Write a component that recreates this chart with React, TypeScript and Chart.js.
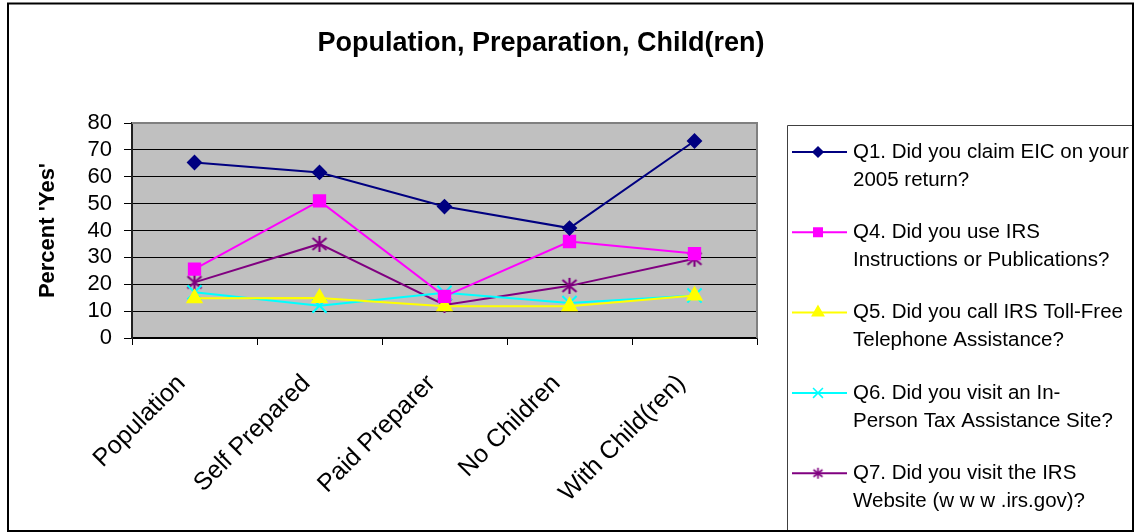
import React, { useEffect, useRef } from 'react';
import { Chart, registerables } from 'chart.js';
import { drawPoint } from 'chart.js/helpers';

Chart.register(...registerables);

// Survey groups along the x axis
const categories = ['Population', 'Self Prepared', 'Paid Preparer', 'No Children', 'With Child(ren)'];

// Percent answering "Yes" for each question
const q1Values = [65.3, 61.6, 48.9, 40.9, 73.3];
const q4Values = [25.6, 51.0, 15.5, 35.9, 31.4];
const q5Values = [14.8, 14.9, 11.8, 11.8, 15.8];
const q6Values = [17.0, 12.0, 16.8, 13.0, 15.8];
const q7Values = [20.7, 35.0, 12.3, 19.4, 29.5];

const yMin = 0;
const yMax = 80;
const yStep = 10;

const seriesNames = [
  ['Q1. Did you claim EIC on your', '2005 return?'],
  ['Q4. Did you use IRS', 'Instructions or Publications?'],
  ['Q5. Did you call IRS Toll-Free', 'Telephone Assistance?'],
  ['Q6. Did you visit an In-', 'Person Tax Assistance Site?'],
  ['Q7. Did you visit the IRS', 'Website (w w w .irs.gov)?'],
];

const chartTitle = 'Population, Preparation, Child(ren)';
const yAxisTitle = "Percent 'Yes'";

const W = 1138;
const H = 532;

// Asterisk marker: a vertical stroke crossed by an X
function makeAsterisk(size: number, color: string, lw: number): HTMLCanvasElement {
  const c = document.createElement('canvas');
  c.width = size;
  c.height = size;
  const g = c.getContext('2d')!;
  g.strokeStyle = color;
  g.lineWidth = lw;
  const m = size / 2;
  const p = 1;
  g.beginPath();
  g.moveTo(m, p);
  g.lineTo(m, size - p);
  g.moveTo(p + 1, p + 2);
  g.lineTo(size - p - 1, size - p - 2);
  g.moveTo(size - p - 1, p + 2);
  g.lineTo(p + 1, size - p - 2);
  g.stroke();
  return c;
}

export default function App() {
  const canvasRef = useRef<HTMLCanvasElement | null>(null);

  useEffect(() => {
    const canvas = canvasRef.current;
    if (!canvas) return;

    const purple = '#800080';
    const starBig = makeAsterisk(18, purple, 2.2);
    const starSmall = makeAsterisk(13, purple, 1.6);

    const seriesStyles = [
      { color: '#000080', style: 'rectRot', radius: 6.5, legendStyle: 'rectRot', legendRadius: 5 },
      { color: '#FF00FF', style: 'rect', radius: 8, legendStyle: 'rect', legendRadius: 6 },
      { color: '#FFFF00', style: 'triangle', radius: 8, legendStyle: 'triangle', legendRadius: 6.5 },
      { color: '#00FFFF', style: 'crossRot', radius: 10, legendStyle: 'crossRot', legendRadius: 7 },
      { color: purple, style: starBig as any, radius: 8, legendStyle: starSmall as any, legendRadius: 6 },
    ];
    const seriesValues = [q1Values, q4Values, q5Values, q6Values, q7Values];

    const datasets = seriesValues.map((vals, i) => ({
      label: seriesNames[i].join(' '),
      data: vals,
      borderColor: seriesStyles[i].color,
      backgroundColor: seriesStyles[i].color,
      borderWidth: 2,
      pointStyle: seriesStyles[i].style,
      pointRadius: seriesStyles[i].radius,
      pointBorderWidth: 2,
      pointBackgroundColor: seriesStyles[i].color,
      pointBorderColor: seriesStyles[i].color,
      tension: 0,
      fill: false,
    }));

    const decor = {
      id: 'decor',
      beforeDraw(chart: any) {
        const { ctx, chartArea } = chart;
        ctx.save();
        ctx.fillStyle = '#ffffff';
        ctx.fillRect(0, 0, W, H);
        ctx.fillStyle = '#C0C0C0';
        ctx.fillRect(chartArea.left, chartArea.top, chartArea.right - chartArea.left, chartArea.bottom - chartArea.top);
        ctx.restore();
      },
      beforeDatasetsDraw(chart: any) {
        const { ctx, chartArea } = chart;
        ctx.save();
        ctx.strokeStyle = '#808080';
        ctx.lineWidth = 2;
        ctx.beginPath();
        ctx.moveTo(chartArea.left, chartArea.top);
        ctx.lineTo(chartArea.right, chartArea.top);
        ctx.lineTo(chartArea.right, chartArea.bottom);
        ctx.stroke();
        ctx.restore();
      },
      afterDraw(chart: any) {
        const { ctx } = chart;
        ctx.save();
        // Title
        ctx.fillStyle = '#000';
        ctx.font = 'bold 27px Arial, "Liberation Sans", sans-serif';
        ctx.textAlign = 'center';
        ctx.textBaseline = 'middle';
        ctx.fillText(chartTitle, 541, 44);

        // Legend box, running into the outer frame on the right and bottom
        const lx = 787.5;
        const ly = 125.5;
        ctx.strokeStyle = '#404040';
        ctx.lineWidth = 1;
        ctx.beginPath();
        ctx.moveTo(lx, H);
        ctx.lineTo(lx, ly);
        ctx.lineTo(1133, ly);
        ctx.stroke();

        ctx.save();
        ctx.beginPath();
        ctx.rect(lx, ly, 1132 - lx, H - ly);
        ctx.clip();
        ctx.font = '20.5px Arial, "Liberation Sans", sans-serif';
        ctx.textAlign = 'left';
        ctx.textBaseline = 'middle';
        seriesNames.forEach((lines, i) => {
          const y = 152 + i * 80.3;
          const st = seriesStyles[i];
          ctx.strokeStyle = st.color;
          ctx.fillStyle = st.color;
          ctx.lineWidth = 2;
          ctx.beginPath();
          ctx.moveTo(792, y);
          ctx.lineTo(847, y);
          ctx.stroke();
          ctx.lineWidth = 1.5;
          drawPoint(ctx, { pointStyle: st.legendStyle, radius: st.legendRadius, rotation: 0, borderWidth: 1.5 } as any, 818, y);
          ctx.fillStyle = '#000';
          ctx.fillText(lines[0], 853, y);
          ctx.fillText(lines[1], 853, y + 28);
        });
        ctx.restore();

        // Outer frame
        ctx.strokeStyle = '#000';
        ctx.lineWidth = 2;
        ctx.strokeRect(8, 3.5, 1125, 527.5);
        ctx.restore();
      },
    };

    const chart = new Chart(canvas, {
      type: 'line',
      data: { labels: categories, datasets },
      options: {
        responsive: false,
        animation: false,
        devicePixelRatio: 1,
        layout: { padding: { left: 0, top: 123, right: W - 757, bottom: 0 } },
        plugins: {
          legend: { display: false },
          title: { display: false },
          tooltip: { enabled: false },
        },
        scales: {
          x: {
            offset: true,
            afterFit: (s: any) => { s.height = H - 338; },
            grid: { offset: true, drawOnChartArea: false, drawTicks: true, tickLength: 7, color: '#000', lineWidth: 1 },
            border: { display: true, color: '#000', width: 1.5 },
            ticks: {
              minRotation: 45,
              maxRotation: 45,
              autoSkip: false,
              padding: 24,
              labelOffset: -13,
              color: '#000',
              font: { family: 'Arial, "Liberation Sans", sans-serif', size: 25 },
            },
          },
          y: {
            min: yMin,
            max: yMax,
            afterFit: (s: any) => { s.width = 132; },
            grid: { color: '#000', lineWidth: 1, tickLength: 8, drawTicks: true },
            border: { display: true, color: '#202020', width: 2 },
            ticks: {
              stepSize: yStep,
              autoSkip: false,
              padding: 12,
              color: '#000',
              font: { family: 'Arial, "Liberation Sans", sans-serif', size: 22 },
            },
            title: {
              display: true,
              text: yAxisTitle,
              color: '#000',
              padding: { top: 35, bottom: 0 },
              font: { family: 'Arial, "Liberation Sans", sans-serif', size: 22, weight: 'bold' },
            },
          },
        },
      },
      plugins: [decor],
    } as any);

    return () => chart.destroy();
  }, []);

  return (
    <div style={{ position: 'absolute', left: 0, top: 0, width: W, height: H }}>
      <canvas ref={canvasRef} width={W} height={H} style={{ width: W, height: H, display: 'block' }} />
    </div>
  );
}
